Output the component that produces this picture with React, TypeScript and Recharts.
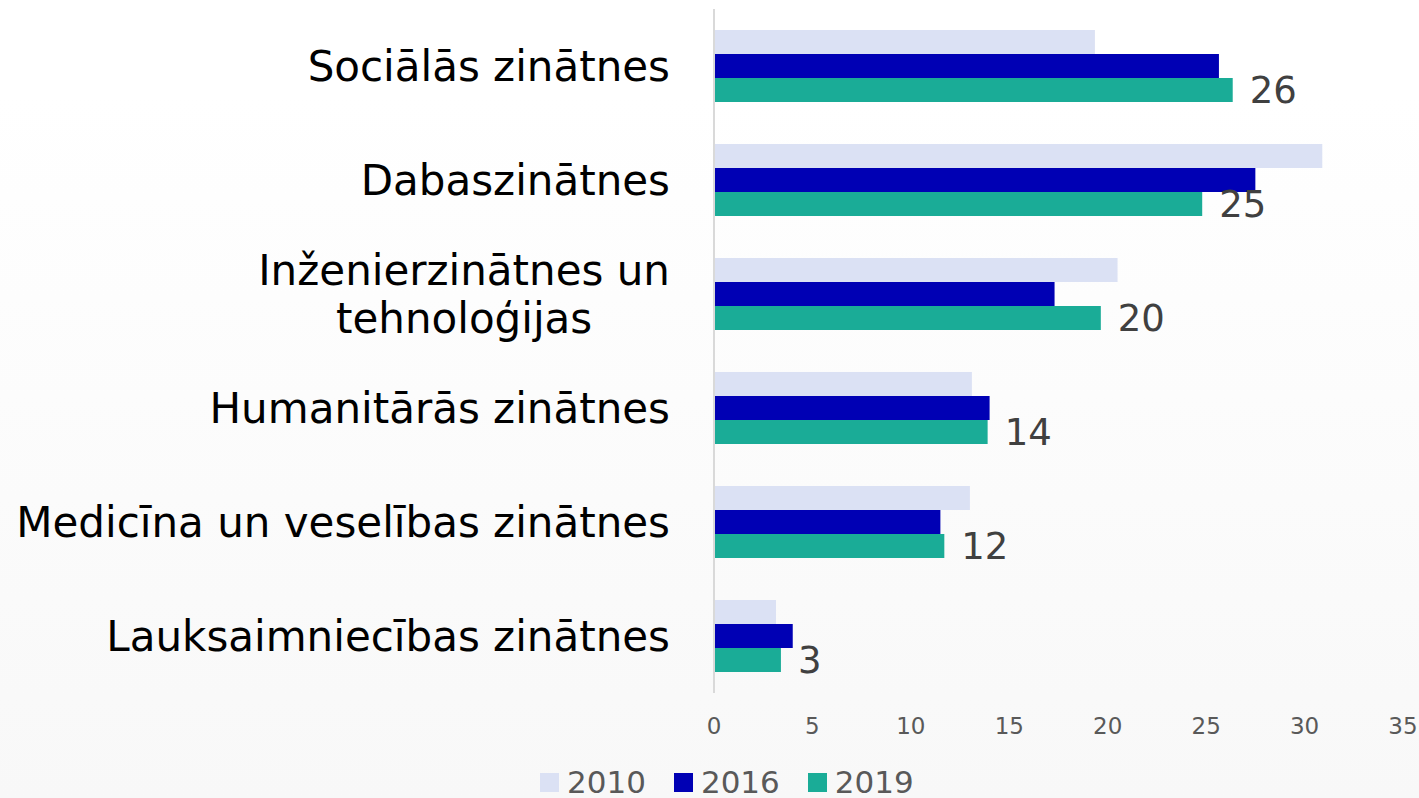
import React from "react";
import { BarChart, Bar, XAxis, YAxis, Legend, LabelList } from "recharts";

const categories = [
  "Sociālās zinātnes",
  "Dabaszinātnes",
  "Inženierzinātnes un\ntehnoloģijas",
  "Humanitārās zinātnes",
  "Medicīna un veselības zinātnes",
  "Lauksaimniecības zinātnes",
];
const values2010 = [19.35, 30.9, 20.5, 13.1, 13.0, 3.15];
const values2016 = [25.65, 27.5, 17.3, 14.0, 11.5, 4.0];
const values2019 = [26.35, 24.8, 19.65, 13.9, 11.7, 3.4];
const xTicks = [0, 5, 10, 15, 20, 25, 30, 35];

const series = [
  { key: "y2010", name: "2010", color: "#dbe1f4" },
  { key: "y2016", name: "2016", color: "#0000b4" },
  { key: "y2019", name: "2019", color: "#1aac97" },
];

const data = categories.map((name, i) => ({
  name,
  y2010: values2010[i],
  y2016: values2016[i],
  y2019: values2019[i],
}));

const FONT = "DejaVu Sans, Verdana, sans-serif";
const CAT_SIZE = 42;

let ctx: CanvasRenderingContext2D | null = null;
function textWidth(s: string) {
  if (!ctx) ctx = document.createElement("canvas").getContext("2d");
  if (!ctx) return s.length * CAT_SIZE * 0.55;
  ctx.font = `${CAT_SIZE}px ${FONT}`;
  return ctx.measureText(s).width;
}

const CategoryTick = (props: any) => {
  const { x, y, payload } = props;
  const lines = String(payload.value).split("\n");
  const style = { fontFamily: FONT, fontSize: CAT_SIZE, fill: "#000" };
  if (lines.length === 1) {
    return (
      <text x={x} y={y} dy="0.36em" textAnchor="end" style={style}>
        {lines[0]}
      </text>
    );
  }
  const w = Math.max(...lines.map(textWidth));
  const cx = x - w / 2;
  const lh = 48;
  return (
    <text textAnchor="middle" style={style}>
      {lines.map((l, i) => (
        <tspan key={i} x={cx} y={y + (i - (lines.length - 1) / 2) * lh} dy="0.36em">
          {l}
        </tspan>
      ))}
    </text>
  );
};

const renderLegend = () => (
  <div
    style={{
      height: 47,
      boxSizing: "border-box",
      paddingTop: 15,
      display: "flex",
      alignItems: "center",
      fontFamily: FONT,
      fontSize: 31,
      lineHeight: "35px",
      color: "#595959",
    }}
  >
    {series.map((s) => (
      <div key={s.key} style={{ display: "flex", alignItems: "center", marginRight: 28 }}>
        <span style={{ width: 19, height: 19, background: s.color, marginRight: 8, display: "inline-block" }} />
        <span>{s.name}</span>
      </div>
    ))}
  </div>
);

export default function App() {
  return (
    <div
      style={{
        position: "absolute",
        left: 0,
        top: 0,
        width: 1419,
        height: 798,
        background: "linear-gradient(to bottom, #ffffff 0%, #ffffff 12%, #f8f8f8 100%)",
      }}
    >
      <BarChart
        width={1419}
        height={798}
        data={data}
        layout="vertical"
        margin={{ top: 9, right: 16, left: 0, bottom: 0 }}
        barGap={0}
      >
        <XAxis
          type="number"
          domain={[0, 35]}
          ticks={xTicks}
          axisLine={false}
          tickLine={false}
          tickMargin={19}
          height={58}
          tick={{ fill: "#595959", fontSize: 23, fontFamily: FONT }}
        />
        <YAxis
          type="category"
          dataKey="name"
          width={714}
          axisLine={{ stroke: "#d9d9d9", strokeWidth: 2 }}
          tickLine={false}
          tickMargin={38}
          tick={<CategoryTick />}
          interval={0}
        />
        <Legend
          verticalAlign="bottom"
          content={renderLegend}
          wrapperStyle={{ left: 540, bottom: 0, width: "auto" }}
        />
        {series.map((s) => (
          <Bar key={s.key} dataKey={s.key} name={s.name} fill={s.color} barSize={24} isAnimationActive={false}>
            {s.key === "y2019" && (
              <LabelList
                dataKey={s.key}
                position="right"
                offset={17}
                formatter={(v: any) => Math.round(Number(v))}
                style={{ fill: "#404040", fontSize: 37, fontFamily: FONT }}
              />
            )}
          </Bar>
        ))}
      </BarChart>
    </div>
  );
}
